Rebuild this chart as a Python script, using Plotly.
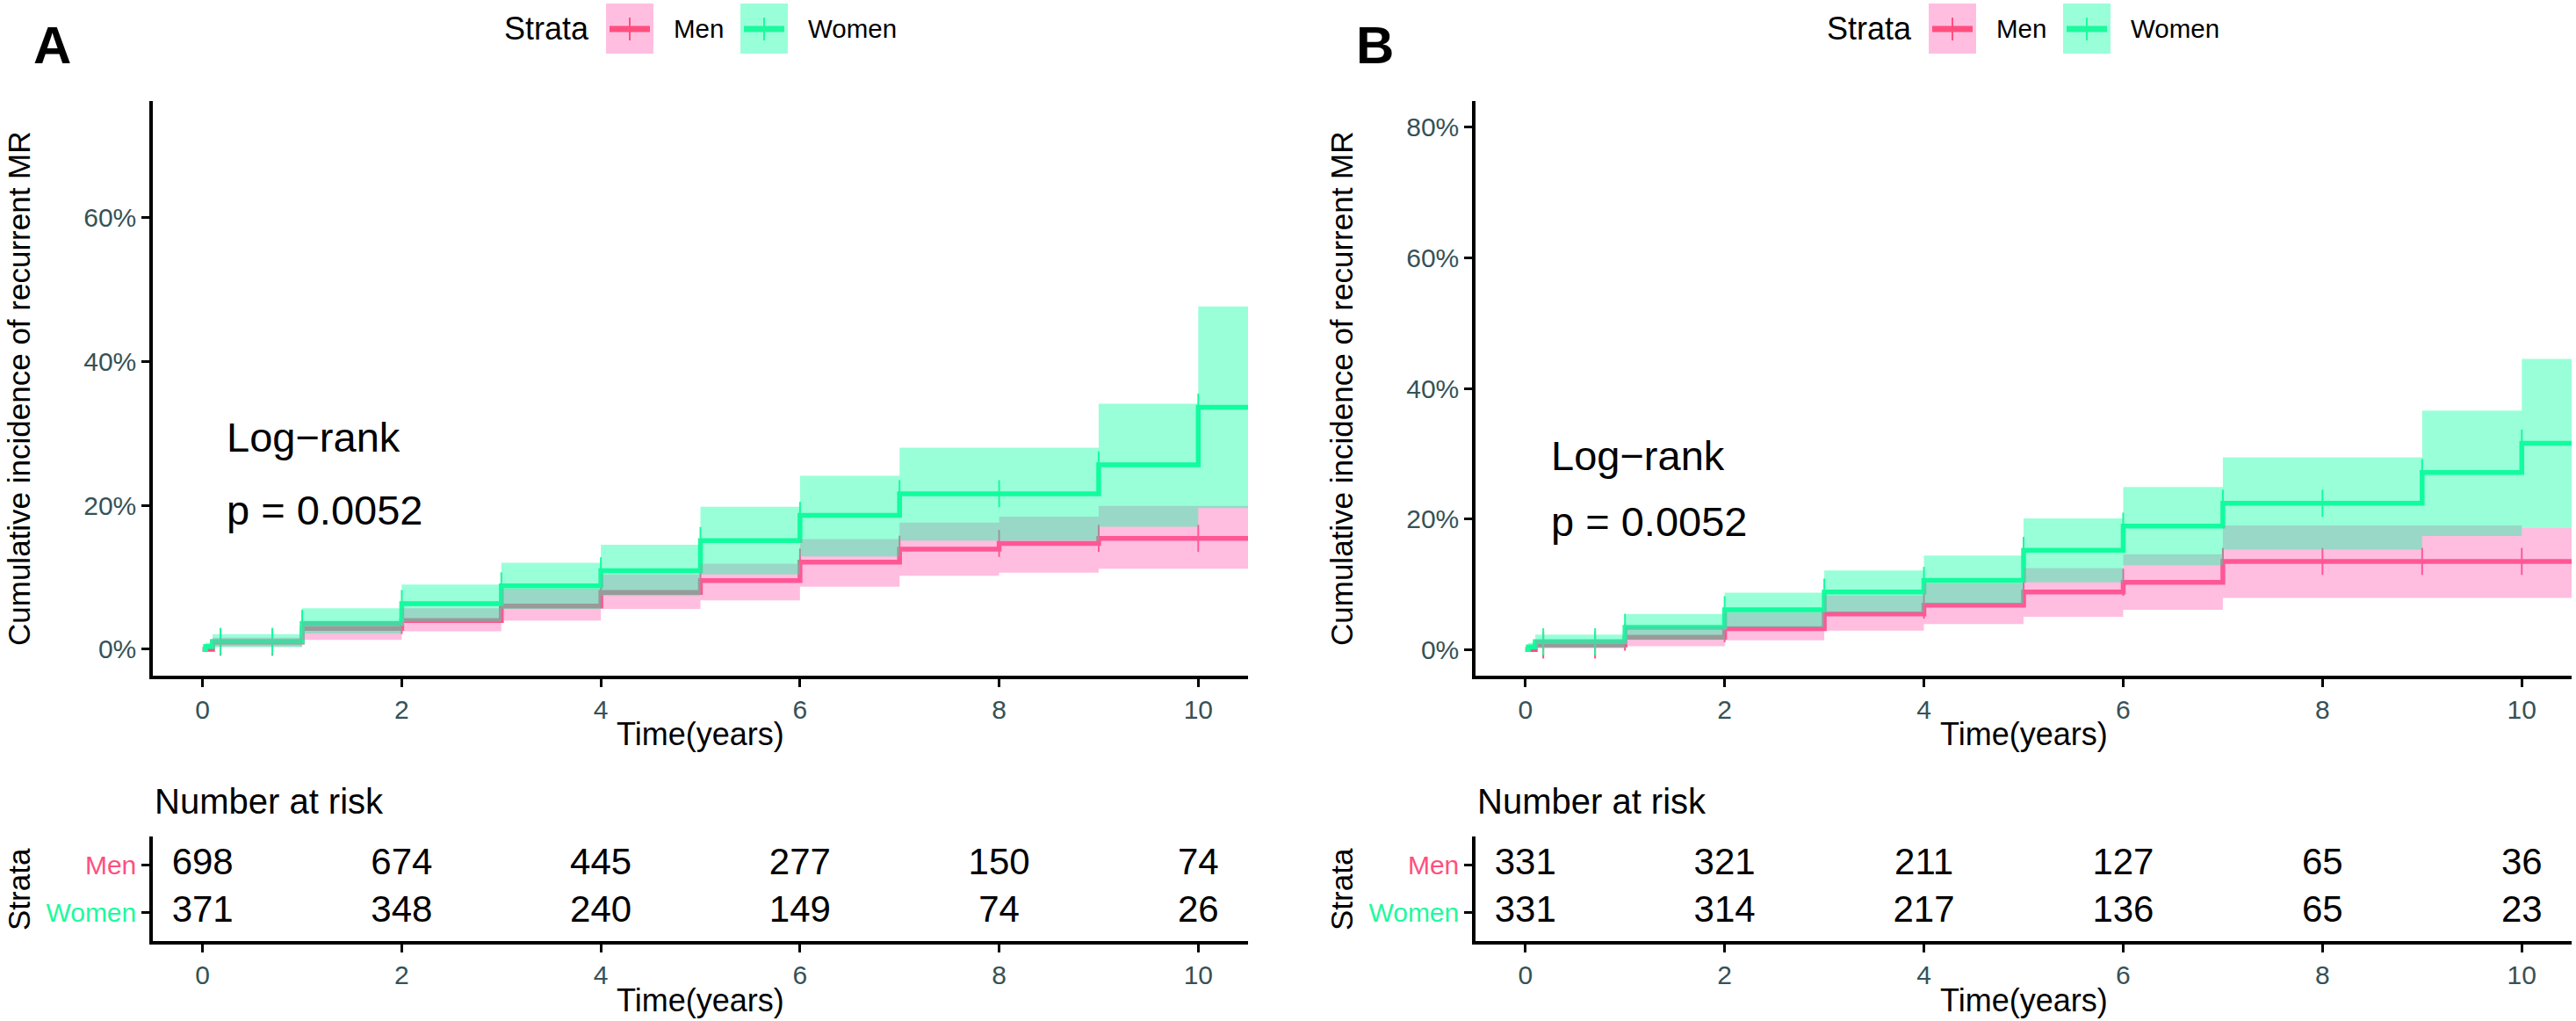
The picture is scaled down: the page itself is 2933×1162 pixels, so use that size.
import numpy as np
import plotly.graph_objects as go

# ---- data (cumulative incidence in %) ----
# panel A
a_women_t = [0, 0.03, 0.1, 1, 2, 3, 4, 5, 6, 7, 9, 10]
a_women_est = [0, 0.4, 1.1, 3.6, 6.35, 8.8, 10.9, 15.1, 18.6, 21.6, 25.6, 33.6]
a_women_up = [0, 0.9, 2.1, 5.7, 9.0, 12.0, 14.5, 19.8, 24.1, 28.0, 34.1, 47.6]
a_women_lo = [0, 0, 0.3, 2.2, 3.85, 5.6, 7.4, 10.4, 12.9, 15.1, 17.0, 19.6]

a_men_t = [0, 0.1, 1, 2, 3, 4, 5, 6, 7, 8, 9]
a_men_est = [0, 1.0, 2.9, 4.0, 6.0, 7.9, 9.55, 12.1, 13.9, 14.7, 15.4]
a_men_up = [0, 1.6, 3.9, 5.7, 8.4, 10.4, 11.9, 15.3, 17.6, 18.4, 19.9]
a_men_lo = [0, 0.4, 1.3, 2.5, 4.0, 5.6, 6.8, 8.7, 10.2, 10.65, 11.2]

# panel B
b_women_t = [0, 0.03, 0.1, 1, 2, 3, 4, 5, 6, 7, 9, 10]
b_women_est = [0, 0.4, 1.2, 3.4, 6.1, 8.8, 10.6, 15.2, 18.9, 22.4, 27.1, 31.6]
b_women_up = [0, 1.0, 2.3, 5.45, 8.7, 12.1, 14.4, 20.1, 24.9, 29.45, 36.6, 44.5]
b_women_lo = [0, 0, 0.3, 1.5, 3.4, 5.7, 7.0, 10.3, 12.9, 15.3, 17.4, 18.6]

b_men_t = [0, 0.1, 1, 2, 3, 4, 5, 6, 7, 10]
b_men_est = [0, 0.7, 1.9, 3.2, 5.45, 6.8, 8.8, 10.3, 13.5, 13.5]
b_men_up = [0, 1.5, 3.5, 5.7, 8.3, 10.2, 12.5, 14.6, 19.0, 18.6]
b_men_lo = [0, 0.2, 0.5, 1.4, 2.9, 3.9, 5.0, 6.1, 7.9, 7.9]

censor_t = [0.18, 0.7, 1, 2, 3, 4, 5, 6, 7, 8, 9, 10]
t_end = 10.5

# y ticks
a_yticks = [0, 20, 40, 60]
b_yticks = [0, 20, 40, 60, 80]

# number at risk
risk_times = [0, 2, 4, 6, 8, 10]
a_risk_men = [698, 674, 445, 277, 150, 74]
a_risk_women = [371, 348, 240, 149, 74, 26]
b_risk_men = [331, 321, 211, 127, 65, 36]
b_risk_women = [331, 314, 217, 136, 65, 23]

# ---- style ----
W, H = 2933, 1162
FONT = "Liberation Sans, Arial, sans-serif"
MEN = "#FF4F7F"
WOMEN = "#1DFA9D"
MEN_FILL = "rgba(255,100,180,0.42)"
WOMEN_FILL = "rgba(0,255,160,0.40)"
TICK_COL = "#355257"


def px(x):
    return x / W


def py(y):
    return 1 - y / H


def step_path(t, v, end):
    xs, ys = [], []
    for i in range(len(t)):
        nxt = t[i + 1] if i + 1 < len(t) else end
        xs += [t[i], nxt]
        ys += [v[i], v[i]]
    return xs, ys


def value_at(t, v, x):
    idx = np.searchsorted(np.array(t), x, side="right") - 1
    return [v[i] for i in idx]


fig = go.Figure()


def add_panel(xa, ya, groups):
    # lines first, ribbons on top (as in survminer)
    for t, est, up, lo, col, fillcol, name in groups:
        fig.add_trace(go.Scatter(
            x=list(t) + [t_end], y=list(est) + [est[-1]],
            mode="lines", line=dict(color=col, width=5.5, shape="hv"),
            name=name, showlegend=False, xaxis=xa, yaxis=ya,
        ))
        fig.add_trace(go.Scatter(
            x=censor_t, y=value_at(t, est, censor_t),
            mode="markers",
            marker=dict(symbol="line-ns", size=22, line=dict(color=col, width=2)),
            showlegend=False, xaxis=xa, yaxis=ya,
        ))
    for t, est, up, lo, col, fillcol, name in groups:
        xu, yu = step_path(t, up, t_end)
        xl, yl = step_path(t, lo, t_end)
        fig.add_trace(go.Scatter(
            x=xu + xl[::-1], y=yu + yl[::-1],
            mode="lines", fill="toself", fillcolor=fillcol,
            line=dict(width=0), showlegend=False, hoverinfo="skip",
            xaxis=xa, yaxis=ya,
        ))


add_panel("x", "y", [
    (a_men_t, a_men_est, a_men_up, a_men_lo, MEN, MEN_FILL, "Men"),
    (a_women_t, a_women_est, a_women_up, a_women_lo, WOMEN, WOMEN_FILL, "Women"),
])
add_panel("x2", "y2", [
    (b_men_t, b_men_est, b_men_up, b_men_lo, MEN, MEN_FILL, "Men"),
    (b_women_t, b_women_est, b_women_up, b_women_lo, WOMEN, WOMEN_FILL, "Women"),
])

# risk tables
for xa, ya, men, women in [("x3", "y3", a_risk_men, a_risk_women),
                           ("x4", "y4", b_risk_men, b_risk_women)]:
    for row, vals in [(1, men), (0, women)]:
        fig.add_trace(go.Scatter(
            x=risk_times, y=[row] * len(risk_times), text=[str(v) for v in vals],
            mode="text", textfont=dict(family=FONT, size=42, color="black"),
            showlegend=False, cliponaxis=False, xaxis=xa, yaxis=ya,
        ))

axis_common = dict(
    showline=True, linecolor="black", linewidth=3.5,
    ticks="outside", ticklen=9, tickwidth=3, tickcolor="black",
    showgrid=False, zeroline=False,
    tickfont=dict(family=FONT, size=30, color=TICK_COL),
)

main_y = [py(769), py(115)]
table_y = [py(1071), py(952)]
a_x = [px(174), px(1421)]
b_x = [px(1680), px(2928)]
xticks = dict(tickvals=[0, 2, 4, 6, 8, 10], range=[-0.5, 10.5])

row_ticktext = [
    '<span style="color:%s">Women</span>' % WOMEN,
    '<span style="color:%s">Men</span>' % MEN,
]

fig.update_layout(
    width=W, height=H, autosize=False,
    margin=dict(l=0, r=0, t=0, b=0),
    paper_bgcolor="white", plot_bgcolor="white",
    font=dict(family=FONT, color="black"),
    xaxis=dict(domain=a_x, anchor="y", **xticks, **axis_common),
    yaxis=dict(domain=main_y, anchor="x", range=[-3.66, 76.1],
               tickvals=a_yticks, ticktext=["%d%%" % v for v in a_yticks],
               **axis_common),
    xaxis2=dict(domain=b_x, anchor="y2", **xticks, **axis_common),
    yaxis2=dict(domain=main_y, anchor="x2", range=[-4.0, 84.0],
                tickvals=b_yticks, ticktext=["%d%%" % v for v in b_yticks],
                **axis_common),
    xaxis3=dict(domain=a_x, anchor="y3", **xticks, **axis_common),
    yaxis3=dict(domain=table_y, anchor="x3", range=[-0.62, 1.62],
                tickvals=[0, 1], ticktext=row_ticktext, **axis_common),
    xaxis4=dict(domain=b_x, anchor="y4", **xticks, **axis_common),
    yaxis4=dict(domain=table_y, anchor="x4", range=[-0.62, 1.62],
                tickvals=[0, 1], ticktext=row_ticktext, **axis_common),
)

annotations = []
shapes = []


def ann(text, x, y, size, xanchor="center", yanchor="middle", angle=0, bold=False):
    if bold:
        text = "<b>%s</b>" % text
    annotations.append(dict(
        text=text, x=px(x), y=py(y), xref="paper", yref="paper",
        xanchor=xanchor, yanchor=yanchor, textangle=angle, showarrow=False,
        font=dict(family=FONT, size=size, color="black"),
    ))


for off, label, panel_c, lr_x, lr_y, p_y in [(0, "A", 797, 256, 497, 580),
                                             (1506, "B", 2304, 1764, 518, 593)]:
    ann(label, 59 + off, 52, 60, bold=True)
    ann("Cumulative incidence of recurrent MR", 21 + off, 442, 35, angle=-90)
    ann("Time(years)", panel_c, 835, 36)
    ann("Log\u2212rank", lr_x, lr_y, 47, xanchor="left")
    ann("p = 0.0052", lr_x, p_y, 47, xanchor="left")
    ann("Number at risk", 174 + off, 912, 40, xanchor="left")
    ann("Strata", 21 + off, 1012, 35, angle=-90)
    ann("Time(years)", panel_c, 1138, 36)

    # legend drawn by hand
    lo = off + 1
    ann("Strata", 571 + lo, 33, 36, xanchor="left")
    ann("Men", 764 + lo, 33, 29.5, xanchor="left")
    ann("Women", 917 + lo, 33, 29.5, xanchor="left")
    for x0, col, fillcol in [(689 + lo, MEN, MEN_FILL), (842 + lo, WOMEN, WOMEN_FILL)]:
        shapes.append(dict(type="rect", xref="paper", yref="paper",
                           x0=px(x0), x1=px(x0 + 54), y0=py(61), y1=py(4),
                           fillcolor=fillcol, line=dict(width=0)))
        shapes.append(dict(type="line", xref="paper", yref="paper",
                           x0=px(x0 + 4), x1=px(x0 + 50), y0=py(33), y1=py(33),
                           line=dict(color=col, width=7)))
        shapes.append(dict(type="line", xref="paper", yref="paper",
                           x0=px(x0 + 27), x1=px(x0 + 27), y0=py(20), y1=py(46),
                           line=dict(color=col, width=2)))

fig.update_layout(annotations=annotations, shapes=shapes)

fig.write_html("out.html", config={"displayModeBar": False},
               post_script="document.body.style.margin='0';document.body.style.overflow='hidden';")
